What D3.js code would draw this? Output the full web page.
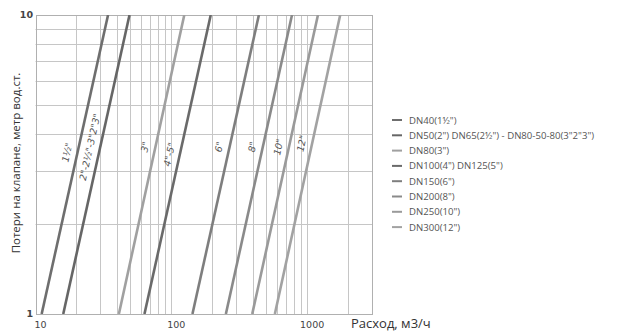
<!DOCTYPE html>
<html><head><meta charset="utf-8">
<script src="https://cdn.jsdelivr.net/npm/d3@7"></script>
<style>body{margin:0;background:#fff}svg{display:block}</style>
</head><body>
<script>
// Data: flow (m3/h) at which each valve reaches 1 m and 10 m head loss
const series = ["DN40(1½\")", "DN50(2\") DN65(2½\") - DN80-50-80(3\"2\"3\")", "DN80(3\")", "DN100(4\") DN125(5\")", "DN150(6\")", "DN200(8\")", "DN250(10\")", "DN300(12\")"];
const lineLabels = ["1½\"", "2\"-2½\"-3\"2\"3\"", "3\"", "4\"-5\"", "6\"", "8\"", "10\"", "12\""];
const flowAt1 = [11.1, 16.0, 41.1, 63.4, 143, 252, 394, 578];
const flowAt10 = [34.2, 49.2, 124.5, 195, 441, 773, 1200, 1750];
const labelLoss = [3.45, 3.6, 3.6, 3.4, 3.6, 3.6, 3.6, 3.7];
const colors = ["#6e6e6e", "#666666", "#a0a0a0", "#6a6a6a", "#7e7e7e", "#8a8a8a", "#9a9a9a", "#a2a2a2"];
const xTicks = [10, 100, 1000];
const yTicks = [1, 10];

const W = 625, H = 332;
const svg = d3.select("body").append("svg").attr("width", W).attr("height", H);
const x = d3.scaleLog().domain([10, 3000]).range([35.5, 372]);
const y = d3.scaleLog().domain([1, 10]).range([314, 15]);

// grid
const xGrid = [];
[10, 100, 1000].forEach(d => { for (let k = 1; k <= 9; k++) { const v = d * k; if (v > 10 && v < 3000) xGrid.push(v); } });
const yGrid = [2,3,4,5,6,7,8,9];
svg.append("g").selectAll("line").data(xGrid).join("line")
  .attr("x1", d => Math.round(x(d)) + 0.5).attr("x2", d => Math.round(x(d)) + 0.5)
  .attr("y1", y(1)).attr("y2", y(10)).attr("stroke", "#c6c6c6").attr("stroke-width", 1);
svg.append("g").selectAll("line").data(yGrid).join("line")
  .attr("y1", d => Math.round(y(d)) + 0.5).attr("y2", d => Math.round(y(d)) + 0.5)
  .attr("x1", x(10)).attr("x2", x(3000)).attr("stroke", "#c6c6c6").attr("stroke-width", 1);
svg.append("rect").attr("x", Math.round(x(10)) + 0.5).attr("y", Math.round(y(10)) + 0.5)
  .attr("width", Math.round(x(3000)) - Math.round(x(10))).attr("height", Math.round(y(1)) - Math.round(y(10)))
  .attr("fill", "none").attr("stroke", "#b0b0b0");

// lines
svg.append("clipPath").attr("id", "clip").append("rect")
  .attr("x", x(10)).attr("y", y(10)).attr("width", x(3000) - x(10)).attr("height", y(1) - y(10));
const g = svg.append("g").attr("clip-path", "url(#clip)");
series.forEach((s, i) => {
  g.append("line").attr("x1", x(flowAt1[i])).attr("y1", y(1)).attr("x2", x(flowAt10[i])).attr("y2", y(10))
    .attr("stroke", colors[i]).attr("stroke-width", 2.6);
});

// rotated labels on lines
const ang = Math.atan2(y(1) - y(10), x(flowAt10[0]) - x(flowAt1[0])) * 180 / Math.PI;
lineLabels.forEach((t, i) => {
  const n = Math.log(flowAt10[i] / flowAt1[i]);
  const q = flowAt1[i] * Math.exp(n * Math.log(labelLoss[i]) / Math.log(10));
  const px = x(q) - 7, py = y(labelLoss[i]);
  svg.append("text").attr("transform", `translate(${px},${py}) rotate(${-ang})`)
    .attr("text-anchor", "middle").attr("font-family", "DejaVu Sans, sans-serif")
    .attr("font-size", 9.5).attr("font-style", "italic").attr("fill", "#555").text(t);
});

// tick labels
svg.append("g").selectAll("text").data(xTicks).join("text")
  .attr("x", d => x(d) + 5).attr("y", 328).attr("text-anchor", "middle")
  .attr("font-family", "DejaVu Sans, sans-serif").attr("font-size", 9.5).attr("fill", "#444").text(d => d);
svg.append("g").selectAll("text").data(yTicks).join("text")
  .attr("x", 33).attr("y", d => y(d) + 2.5).attr("text-anchor", "end")
  .attr("font-family", "DejaVu Sans, sans-serif").attr("font-size", 9.5).attr("font-weight", "bold").attr("fill", "#444").text(d => d);

// axis titles
svg.append("text").attr("x", 351).attr("y", 327.5).attr("font-family", "Open Sans, sans-serif")
  .attr("font-size", 13).attr("fill", "#333").text("Расход, м3/ч");
svg.append("text").attr("transform", "translate(20,163) rotate(-90)").attr("text-anchor", "middle")
  .attr("font-family", "Open Sans, sans-serif").attr("font-size", 11.5).attr("fill", "#333")
  .text("Потери на клапане, метр вод.ст.");

// legend
const lg = svg.append("g");
series.forEach((s, i) => {
  const ly = 120 + i * 15.3;
  lg.append("line").attr("x1", 392).attr("x2", 402).attr("y1", ly).attr("y2", ly)
    .attr("stroke", colors[i]).attr("stroke-width", 2);
  lg.append("text").attr("x", 409).attr("y", ly + 3.5).attr("font-family", "Open Sans, sans-serif")
    .attr("font-size", 9.6).attr("fill", "#555").text(s);
});
</script>
</body></html>
